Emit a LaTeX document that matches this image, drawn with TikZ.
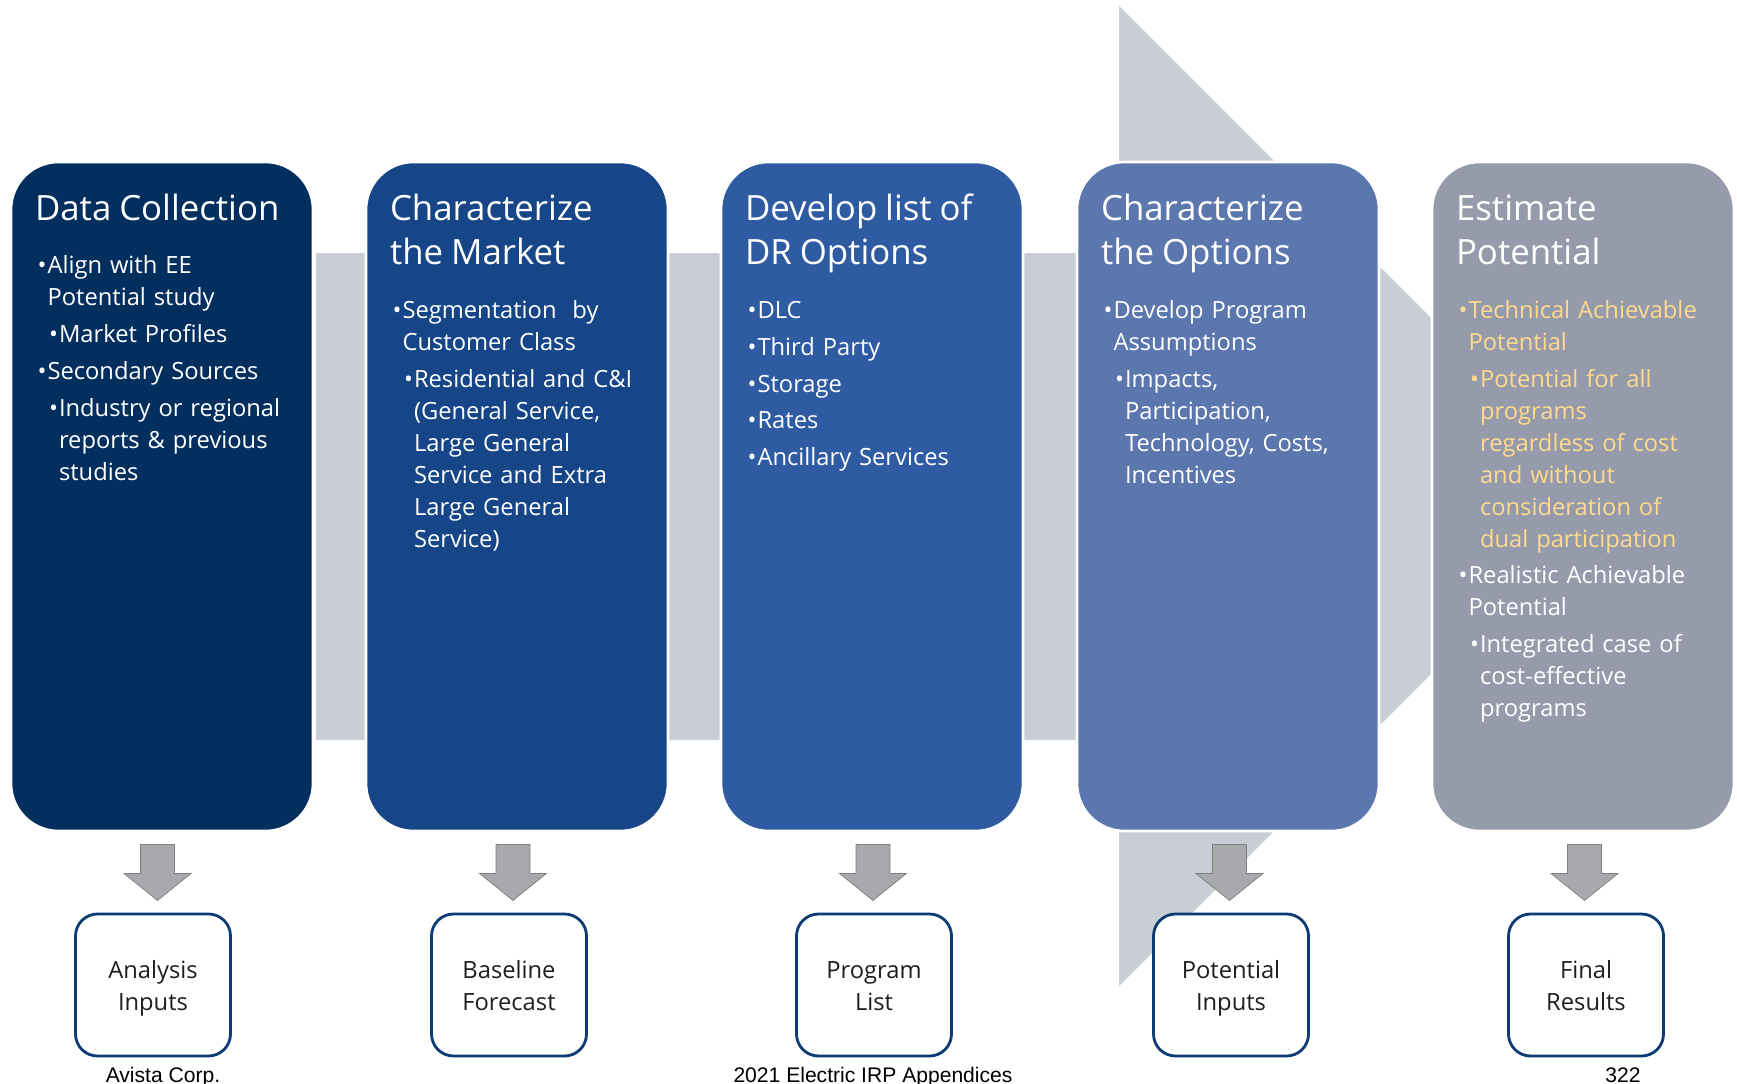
\documentclass[tikz,border=0pt]{standalone}
\usepackage{fontspec}
\setmainfont{Open Sans}
\newfontfamily\footfont{Liberation Sans}
\usepackage{xcolor}
\usepackage{tikz}
\usetikzlibrary{positioning,calc}
\definecolor{deepnavy} {HTML}{032F5F}
\definecolor{royal}    {HTML}{164687}
\definecolor{cobalt}   {HTML}{2F5BA3}
\definecolor{steel}    {HTML}{5B77AE}
\definecolor{haze}     {HTML}{969BAB}
\definecolor{mist}     {HTML}{C9CDD6}
\definecolor{gold}     {HTML}{FFD98E}
\definecolor{pewter}   {HTML}{A7A9AC}
\definecolor{inkblue}  {HTML}{0D3B73}
\definecolor{ink}      {HTML}{1E1E1E}
\newcommand{\stagetitle}[1]{{\noindent\fontsize{19.8}{25.2}\selectfont\rule{0pt}{20pt}#1\par}\vspace{9.3pt}}
\newcommand{\lvone}[2][white]{\par\vspace{2.8pt}\hangindent=0.25cm\hangafter=1\noindent
  {\color{#1}\hspace*{0.05cm}\makebox[0.20cm][l]{\textbullet}#2}}
\newcommand{\lvtwo}[2][white]{\par\vspace{2.8pt}\hangindent=0.48cm\hangafter=1\noindent
  {\color{#1}\hspace*{0.28cm}\makebox[0.20cm][l]{\textbullet}#2}}
\newcommand{\outlabel}[2]{\rule{0pt}{16.5pt}#1\\\strut#2}

\begin{document}
\begin{tikzpicture}[x=0.2mm,y=-0.2mm,
  stagebox/.style={rectangle,rounded corners=0.95cm,draw=white,line width=1.5pt,
                   minimum width=6.04cm,minimum height=13.38cm,inner sep=0pt},
  stagetext/.style={anchor=north west,inner sep=0pt,text width=5.5cm,align=left,
                    text=white,font=\fontsize{13.5}{18.2}\selectfont},
  outbox/.style={rectangle,rounded corners=0.44cm,draw=inkblue,line width=1.6pt,fill=white,
                 minimum width=3.1cm,minimum height=2.84cm,align=center,text=ink,
                 font=\fontsize{13.5}{18.2}\selectfont},
  downarrow/.style={fill=pewter,draw=pewter!75!black,line width=0.4pt,line join=miter},
  pagefoot/.style={anchor=base,inner sep=0pt,font=\footfont\fontsize{12}{14}\selectfont}]
\useasboundingbox (0,0) rectangle (1737,1084);
% background arrow
\fill[mist] (316,253) -- (1119,253) -- (1119,6) -- (1609,496) -- (1119,986) -- (1119,740) -- (316,740) -- cycle;
% stages
\node[stagebox,fill=deepnavy] (collect)  at (162,496.5) {};
\node[stagebox,fill=royal]    (market)   at (517,496.5) {};
\node[stagebox,fill=cobalt]   (options)  at (872,496.5) {};
\node[stagebox,fill=steel]    (chars)    at (1228,496.5) {};
\node[stagebox,fill=haze]     (estimate) at (1583,496.5) {};
\node[stagetext] (collecttxt) at ([xshift=0.5cm,yshift=-0.49cm]collect.north west) {%
  \stagetitle{Data Collection}
  \lvone{Align with EE\newline Potential study}
  \lvtwo{Market Profiles}
  \lvone{Secondary Sources}
  \lvtwo{Industry or regional\newline reports \& previous\newline studies}\par};
\node[stagetext] (markettxt) at ([xshift=0.5cm,yshift=-0.49cm]market.north west) {%
  \stagetitle{Characterize\newline the Market}
  \lvone{Segmentation~ by\newline Customer Class}
  \lvtwo{Residential and C\&I\newline (General Service,\newline Large General\newline Service and Extra\newline Large General\newline Service)}\par};
\node[stagetext] (optionstxt) at ([xshift=0.5cm,yshift=-0.49cm]options.north west) {%
  \stagetitle{Develop list of\newline DR Options}
  \lvone{DLC}
  \lvone{Third Party}
  \lvone{Storage}
  \lvone{Rates}
  \lvone{Ancillary Services}\par};
\node[stagetext] (charstxt) at ([xshift=0.5cm,yshift=-0.49cm]chars.north west) {%
  \stagetitle{Characterize\newline the Options}
  \lvone{Develop Program\newline Assumptions}
  \lvtwo{Impacts,\newline Participation,\newline Technology, Costs,\newline Incentives}\par};
\node[stagetext] (estimatetxt) at ([xshift=0.5cm,yshift=-0.49cm]estimate.north west) {%
  \stagetitle{Estimate\newline Potential}
  \lvone[gold]{Technical Achievable\newline Potential}
  \lvtwo[gold]{Potential for all\newline programs\newline regardless of cost\newline and without\newline consideration of\newline dual participation}
  \lvone{Realistic Achievable\newline Potential}
  \lvtwo{Integrated case of\newline cost-effective\newline programs}\par};
% outputs
\node[outbox] (inputs)    at (153,985)  {\outlabel{Analysis}{Inputs}};
\node[outbox] (baseline)  at (509,985)  {\outlabel{Baseline}{Forecast}};
\node[outbox] (proglist)  at (874,985)  {\outlabel{Program}{List}};
\node[outbox] (potinputs) at (1231,985) {\outlabel{Potential}{Inputs}};
\node[outbox] (results)   at (1586,985) {\outlabel{Final}{Results}};
% block arrows between stage and output
\coordinate (dn1) at ($(collect.south)!0.5!(inputs.north)$);
\coordinate (dn2) at ($(market.south)!0.5!(baseline.north)$);
\coordinate (dn3) at ($(options.south)!0.5!(proglist.north)$);
\coordinate (dn4) at ($(chars.south)!0.5!(potinputs.north)$);
\coordinate (dn5) at ($(estimate.south)!0.5!(results.north)$);
\filldraw[downarrow] (dn1) ++(-17,-28) -- ++(34,0) -- ++(0,29) -- ++(16.5,0) -- ++(-33.5,27) -- ++(-33.5,-27) -- ++(16.5,0) -- cycle;
\filldraw[downarrow] (dn2) ++(-17,-28) -- ++(34,0) -- ++(0,29) -- ++(16.5,0) -- ++(-33.5,27) -- ++(-33.5,-27) -- ++(16.5,0) -- cycle;
\filldraw[downarrow] (dn3) ++(-17,-28) -- ++(34,0) -- ++(0,29) -- ++(16.5,0) -- ++(-33.5,27) -- ++(-33.5,-27) -- ++(16.5,0) -- cycle;
\filldraw[downarrow] (dn4) ++(-17,-28) -- ++(34,0) -- ++(0,29) -- ++(16.5,0) -- ++(-33.5,27) -- ++(-33.5,-27) -- ++(16.5,0) -- cycle;
\filldraw[downarrow] (dn5) ++(-17,-28) -- ++(34,0) -- ++(0,29) -- ++(16.5,0) -- ++(-33.5,27) -- ++(-33.5,-27) -- ++(16.5,0) -- cycle;
% footer
\node[pagefoot] (corp)   at (163,1082)  {Avista Corp.};
\node[pagefoot] (doc)    at (873,1082)  {2021 Electric IRP Appendices};
\node[pagefoot] (pageno) at (1623,1082) {322};
\end{tikzpicture}
\end{document}
